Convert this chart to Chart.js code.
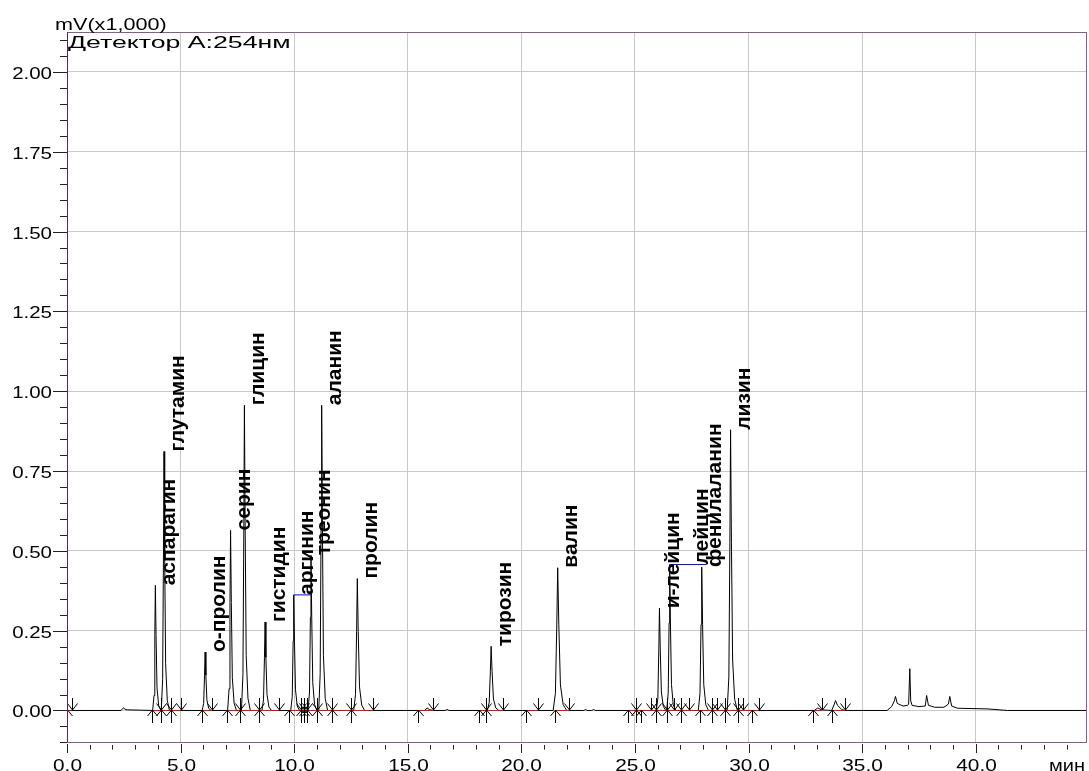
<!DOCTYPE html>
<html>
<head>
<meta charset="utf-8">
<script src="https://cdn.jsdelivr.net/npm/chart.js@4.4.0/dist/chart.umd.min.js"></script>
<style>
  html, body { margin: 0; padding: 0; background: #ffffff; }
  canvas { display: block; }
</style>
</head>
<body>
<canvas id="chrom" width="1089" height="771"></canvas>
<script>
// Axis extents: retention time (min) and detector signal (mV x1,000)
const timeRange = [0, 44.9];
const signalRange = [-0.1, 2.125];
const timeMajorStep = 5;
const timeMinorStep = 1;
const signalMajorStep = 0.25;
const signalMinorStep = 0.05;

const detectorTitle = 'Детектор А:254нм';
const signalUnit = 'mV(x1,000)';
const timeUnit = 'мин';

// Identified peaks
const peakNames   = ['аспарагин', 'глутамин', 'о-пролин', 'серин', 'глицин', 'гистидин', 'аргинин', 'треонин',
                     'аланин', 'пролин', 'тирозин', 'валин', 'и-лейцин', 'лейцин', 'фенилаланин', 'лизин'];
const peakTimes   = [3.89, 4.27, 6.08, 7.20, 7.81, 8.72, 9.98, 10.74, 11.21, 12.78, 18.67, 21.60, 26.08, 26.53, 27.94, 29.21];
const peakHeights = [0.392, 0.811, 0.183, 0.564, 0.956, 0.277, 0.362, 0.486, 0.956, 0.413, 0.201, 0.447, 0.320, 0.457, 0.449, 0.879];
// Where each name is written (differs from the peak only when moved aside)
const labelTimes  = [3.89, 4.27, 6.08, 7.20, 7.81, 8.72, 9.98, 10.74, 11.21, 12.78, 18.67, 21.60, 26.08, 27.34, 27.94, 29.21];
// Leader lines from a peak top, as [peak index, end time]
const leaderLines = [[6, 10.74], [13, 28.15]];

// Detector trace, [time, signal]
const trace = [
  [0, 0], [2.38, 0], [2.45, 0.006], [2.49, 0.009], [2.54, 0.004], [2.65, 0.002], [3.77, 0],
  [3.83, 0.047], [3.866, 0.235], [3.89, 0.392], [3.92, 0.235], [3.962, 0.071], [4.034, 0.016], [4.13, 0],
  [4.15, 0], [4.21, 0.097], [4.246, 0.487], [4.27, 0.811], [4.30, 0.487], [4.342, 0.146], [4.414, 0.032], [4.51, 0],
  [5.95, 0], [6.015, 0.022], [6.054, 0.110], [6.08, 0.183], [6.113, 0.110], [6.158, 0.033], [6.236, 0.007], [6.34, 0],
  [7.07, 0], [7.135, 0.068], [7.174, 0.338], [7.20, 0.564], [7.233, 0.338], [7.278, 0.102], [7.356, 0.023], [7.46, 0],
  [7.68, 0], [7.745, 0.115], [7.784, 0.574], [7.81, 0.956], [7.843, 0.574], [7.888, 0.172], [7.966, 0.038], [8.07, 0],
  [8.58, 0], [8.65, 0.033], [8.692, 0.166], [8.72, 0.277], [8.755, 0.166], [8.804, 0.050], [8.888, 0.011], [9.0, 0],
  [9.85, 0], [9.915, 0.043], [9.954, 0.217], [9.98, 0.362], [10.013, 0.217], [10.058, 0.065], [10.136, 0.014], [10.24, 0],
  [10.61, 0], [10.675, 0.058], [10.714, 0.292], [10.74, 0.486], [10.773, 0.292], [10.818, 0.087], [10.896, 0.019], [11.0, 0],
  [11.08, 0], [11.145, 0.115], [11.184, 0.574], [11.21, 0.956], [11.243, 0.574], [11.288, 0.172], [11.366, 0.038], [11.47, 0],
  [12.62, 0], [12.70, 0.050], [12.748, 0.248], [12.78, 0.413], [12.82, 0.248], [12.876, 0.074], [12.972, 0.017], [13.10, 0],
  [15.75, 0], [15.85, 0.008], [15.95, 0.003], [16.1, 0], [16.65, 0], [16.73, 0.003], [16.82, 0],
  [18.50, 0], [18.585, 0.024], [18.636, 0.121], [18.67, 0.201], [18.713, 0.121], [18.772, 0.036], [18.874, 0.008], [19.01, 0],
  [21.40, 0], [21.50, 0.054], [21.56, 0.268], [21.60, 0.447], [21.65, 0.268], [21.72, 0.080], [21.84, 0.018], [22.0, 0],
  [22.75, 0], [22.82, 0.003], [22.9, 0], [23.1, 0], [23.18, 0.003], [23.26, 0],
  [25.94, 0], [26.01, 0.038], [26.052, 0.192], [26.08, 0.320], [26.115, 0.192], [26.164, 0.058], [26.248, 0.013], [26.36, 0],
  [26.40, 0], [26.465, 0.055], [26.504, 0.274], [26.53, 0.457], [26.563, 0.274], [26.608, 0.082], [26.686, 0.018], [26.79, 0],
  [27.79, 0], [27.865, 0.054], [27.91, 0.269], [27.94, 0.449], [27.978, 0.269], [28.03, 0.081], [28.12, 0.018], [28.24, 0],
  [29.06, 0], [29.135, 0.105], [29.18, 0.527], [29.21, 0.879], [29.248, 0.527], [29.30, 0.158], [29.39, 0.035], [29.51, 0],
  [32.9, 0], [33.05, 0.008], [33.2, 0.002], [33.66, 0], [33.78, 0.02], [33.83, 0.031], [33.92, 0.016], [34.1, 0.003], [34.25, 0],
  [36.1, 0], [36.3, 0.012], [36.42, 0.03], [36.47, 0.044], [36.55, 0.022], [36.8, 0.014], [37.0, 0.016], [37.05, 0.02],
  [37.10, 0.131], [37.14, 0.03], [37.2, 0.016], [37.5, 0.012], [37.78, 0.014], [37.84, 0.047], [37.92, 0.016], [38.2, 0.01],
  [38.6, 0.01], [38.8, 0.02], [38.86, 0.044], [38.94, 0.014], [39.2, 0.007], [40.5, 0.005], [41.4, 0], [44.9, 0]
];

// Integration marks: peak start (arrow up) and peak end (arrow down), min
const peakStarts = [0.0, 3.73, 4.12, 4.56, 5.94, 7.04, 7.63, 8.44, 9.76, 10.28, 10.43, 10.58, 11.01, 11.68, 12.48,
                    15.43, 18.15, 18.45, 20.2, 21.5, 24.68, 25.03, 25.27, 25.92, 26.43, 27.05, 27.85, 28.4, 28.97,
                    29.55, 30.15, 32.85, 33.66];
const peakEnds   = [0.2, 4.12, 4.56, 5.0, 6.38, 7.63, 8.44, 9.33, 10.28, 10.43, 10.58, 11.01, 11.68, 12.48, 13.48,
                    16.12, 18.45, 19.2, 20.72, 22.11, 25.03, 25.69, 25.92, 26.43, 26.7, 27.05, 27.38, 28.4, 28.6,
                    28.97, 29.55, 29.76, 30.45, 33.25, 34.25];
// Drawn baselines under integrated groups, [from, to]
const baselineSegments = [[0, 0.2], [3.73, 5.0], [5.94, 6.38], [7.04, 9.33], [9.76, 13.48], [15.43, 16.12],
                          [18.15, 19.2], [20.2, 20.72], [21.5, 22.11], [24.68, 30.45], [32.85, 33.25], [33.66, 34.25]];

// ---- datasets ----
const tracePoints = trace.map(p => ({ x: p[0], y: p[1] }));
const baselinePoints = [];
baselineSegments.forEach(s => {
  baselinePoints.push({ x: s[0], y: 0 }, { x: s[1], y: 0 }, { x: s[1] + 0.001, y: null });
});
const leaderPoints = [];
leaderLines.forEach(l => {
  const i = l[0];
  leaderPoints.push({ x: peakTimes[i], y: peakHeights[i] }, { x: l[1], y: peakHeights[i] }, { x: l[1] + 0.001, y: null });
});

// ---- helpers ----
function stretchedText(ctx, text, x, y, sx, align) {
  ctx.save();
  ctx.translate(x, y);
  ctx.scale(sx, 1);
  ctx.textAlign = align;
  ctx.fillText(text, 0, 0);
  ctx.restore();
}

// integration arrows sitting on the baseline
const integrationMarks = {
  id: 'integrationMarks',
  afterDatasetsDraw(chart) {
    const ctx = chart.ctx;
    const xs = chart.scales.x, ys = chart.scales.y;
    const a = chart.chartArea;
    const y0 = Math.round(ys.getPixelForValue(0));
    ctx.save();
    ctx.beginPath();
    ctx.rect(a.left, a.top, a.right - a.left, a.bottom - a.top);
    ctx.clip();
    ctx.strokeStyle = '#000000';
    ctx.lineWidth = 1;
    ctx.beginPath();
    peakStarts.forEach(t => {
      const x = Math.round(xs.getPixelForValue(t)) + 0.5;
      ctx.moveTo(x, y0 + 13); ctx.lineTo(x, y0);
      ctx.moveTo(x - 5, y0 + 6); ctx.lineTo(x, y0); ctx.lineTo(x + 5, y0 + 6);
    });
    peakEnds.forEach(t => {
      const x = Math.round(xs.getPixelForValue(t)) + 0.5;
      ctx.moveTo(x, y0 - 12); ctx.lineTo(x, y0);
      ctx.moveTo(x - 5, y0 - 6.5); ctx.lineTo(x, y0); ctx.lineTo(x + 5, y0 - 6.5);
    });
    ctx.stroke();
    ctx.restore();
  }
};

// frame, ticks, axis text and peak names
const decor = {
  id: 'decor',
  afterDraw(chart) {
    const ctx = chart.ctx;
    const xs = chart.scales.x, ys = chart.scales.y;
    const a = chart.chartArea;
    const L = Math.round(a.left), T = Math.round(a.top), R = Math.round(a.right), B = Math.round(a.bottom);
    ctx.save();

    // frame
    ctx.lineWidth = 1;
    ctx.strokeStyle = '#8a5a8a';
    ctx.strokeRect(L + 0.5, T + 0.5, R - L - 1, B - T);
    ctx.strokeStyle = '#5e225e';
    ctx.beginPath();
    ctx.moveTo(L + 0.5, T);
    ctx.lineTo(L + 0.5, B);
    ctx.stroke();

    // signal ticks
    ctx.strokeStyle = '#222222';
    ctx.fillStyle = '#000000';
    ctx.font = '16px "Liberation Sans", Arial, sans-serif';
    ctx.textBaseline = 'middle';
    const nS = Math.round((signalRange[1] - signalRange[0]) / signalMinorStep);
    for (let k = 0; k <= nS; k++) {
      const v = signalRange[0] + k * signalMinorStep;
      if (v > signalRange[1] + 1e-9) break;
      const y = Math.round(ys.getPixelForValue(v)) + 0.5;
      const major = Math.abs(v / signalMajorStep - Math.round(v / signalMajorStep)) < 1e-6;
      ctx.beginPath();
      ctx.moveTo(major ? 53 : 60, y);
      ctx.lineTo(L, y);
      ctx.stroke();
      if (major) stretchedText(ctx, v.toFixed(2), 52, y + 2, 1.28, 'right');
    }

    // time ticks
    ctx.textBaseline = 'alphabetic';
    for (let k = 0; ; k++) {
      const t = timeRange[0] + k * timeMinorStep;
      if (t > timeRange[1] + 1e-9) break;
      const x = Math.round(xs.getPixelForValue(t)) + 0.5;
      const major = Math.abs(t / timeMajorStep - Math.round(t / timeMajorStep)) < 1e-6;
      ctx.beginPath();
      ctx.moveTo(x, major ? 744 : 745);
      ctx.lineTo(x, major ? 753 : 749.5);
      ctx.stroke();
      if (major) stretchedText(ctx, t.toFixed(1), x, 770.5, 1.3, 'center');
    }
    stretchedText(ctx, timeUnit, 1085, 770.5, 1.25, 'right');
    stretchedText(ctx, signalUnit, 55, 29.5, 1.35, 'left');
    ctx.font = '17px "Liberation Sans", Arial, sans-serif';
    stretchedText(ctx, detectorTitle, 68, 47.5, 1.57, 'left');

    // peak names, written upward from the peak top
    ctx.font = 'bold 20px "Liberation Sans", Arial, sans-serif';
    peakNames.forEach((name, i) => {
      const x = xs.getPixelForValue(labelTimes[i]) + 19.5;
      const y = ys.getPixelForValue(peakHeights[i]);
      ctx.save();
      ctx.translate(x, y);
      ctx.rotate(-Math.PI / 2);
      ctx.scale(1.05, 1);
      ctx.textAlign = 'left';
      ctx.fillText(name, 0, 0);
      ctx.restore();
    });
    ctx.restore();
  }
};

new Chart(document.getElementById('chrom'), {
  type: 'line',
  data: {
    datasets: [
      { data: tracePoints, borderColor: '#000000', borderWidth: 1, pointRadius: 0, tension: 0, order: 3 },
      { data: baselinePoints, borderColor: '#ff0000', borderWidth: 1, pointRadius: 0, spanGaps: false, order: 2 },
      { data: leaderPoints, borderColor: '#0000ff', borderWidth: 1, pointRadius: 0, spanGaps: false, order: 1 }
    ]
  },
  options: {
    responsive: false,
    animation: false,
    devicePixelRatio: 1,
    parsing: false,
    normalized: true,
    layout: { autoPadding: false, padding: { left: 0, top: 32, right: 2, bottom: 0 } },
    plugins: { legend: { display: false }, tooltip: { enabled: false } },
    events: [],
    scales: {
      x: {
        type: 'linear', min: timeRange[0], max: timeRange[1],
        ticks: { display: false, stepSize: timeMajorStep, includeBounds: false },
        grid: { color: '#c8c8c8', lineWidth: 1, drawTicks: false },
        border: { display: false },
        afterFit(s) { s.height = 28.6; }
      },
      y: {
        type: 'linear', min: signalRange[0], max: signalRange[1],
        ticks: { display: false, stepSize: signalMajorStep, includeBounds: false },
        grid: { color: '#c8c8c8', lineWidth: 1, drawTicks: false },
        border: { display: false },
        afterFit(s) { s.width = 67; }
      }
    }
  },
  plugins: [integrationMarks, decor]
});
</script>
</body>
</html>
